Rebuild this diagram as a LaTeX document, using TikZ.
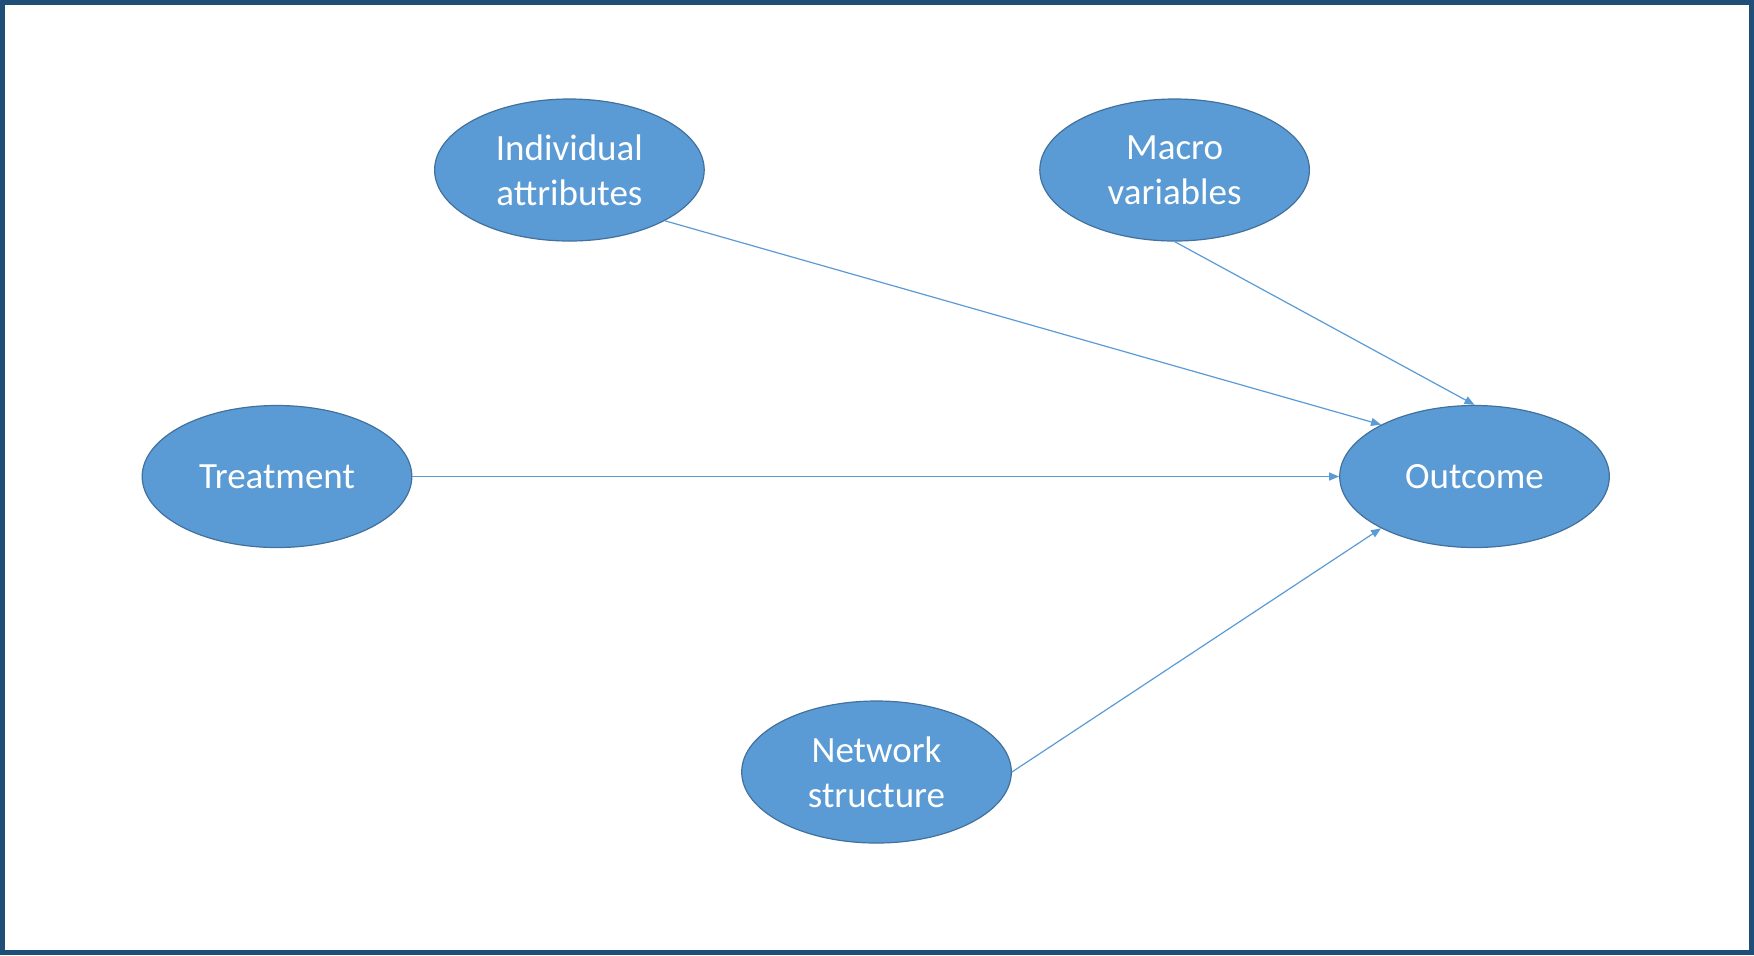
\documentclass[tikz,border=0pt]{standalone}
\usepackage{fontspec}
\setmainfont{Carlito}
\usetikzlibrary{arrows.meta,shapes.geometric}
\definecolor{fillblue}{HTML}{5B9BD5}
\definecolor{edgeblue}{HTML}{41719C}
\definecolor{frameblue}{HTML}{1F4E79}
\begin{document}
\begin{tikzpicture}[x=0.5pt,y=-0.5pt,
  var/.style={ellipse,draw=edgeblue,line width=0.6pt,fill=fillblue,text=white,
    minimum width=134.8pt,minimum height=71pt,inner sep=0pt,align=center,
    font=\fontsize{18.5pt}{22.4pt}\selectfont},
  link/.style={draw=fillblue,line width=0.6pt,-{Triangle[length=5pt,width=4pt]}}]
\fill[white] (0,0) rectangle (1754,955);
\useasboundingbox (0,0) rectangle (1754,955);
\draw[frameblue,line width=2.5pt] (2.5,2.5) rectangle (1751.5,952.5);
\node[var] (ind) at (569.4,170) {Individual\\attributes};
\node[var] (mac) at (1174.6,170) {Macro\\variables};
\node[var] (tre) at (277,476.5) {Treatment};
\node[var] (out) at (1474.5,476.5) {Outcome};
\node[var] (net) at (876.5,772) {Network\\structure};
\draw[link] (ind.-28) -- (out.151.5);
\draw[link] (mac.south) -- (out.north);
\draw[link] (tre.east) -- (out.west);
\draw[link] (net.east) -- (out.209);
\end{tikzpicture}
\end{document}
